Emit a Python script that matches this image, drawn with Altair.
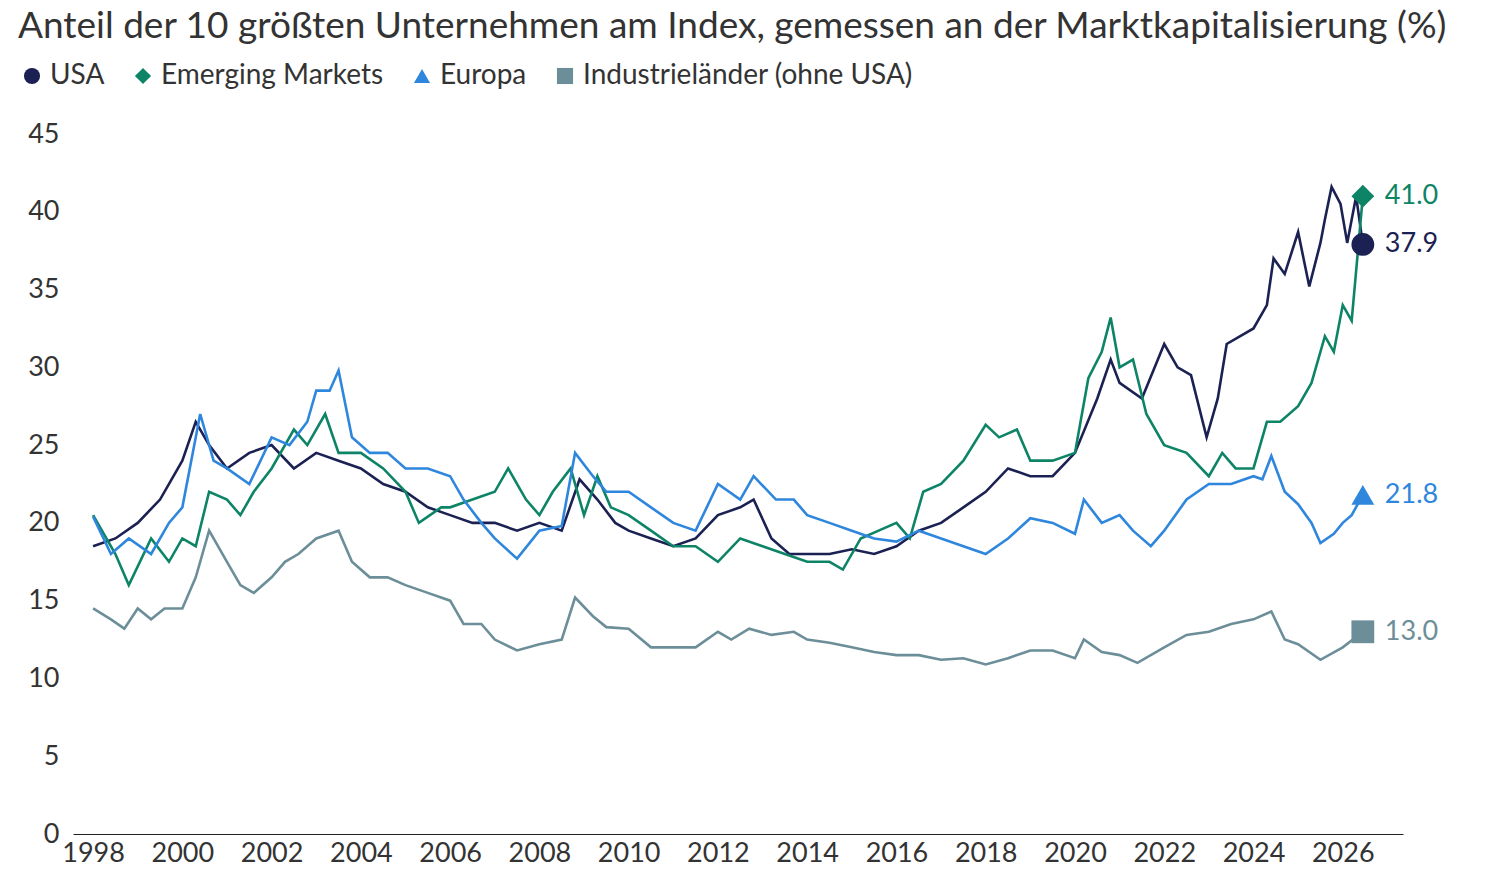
import altair as alt
import pandas as pd

usa_x = [1998.0, 1998.5, 1999.0, 1999.5, 2000.0, 2000.3, 2000.6, 2001.0, 2001.5, 2002.0, 2002.5, 2003.0, 2003.5,
         2004.0, 2004.5, 2005.0, 2005.5, 2006.0, 2006.5, 2007.0, 2007.5, 2008.0, 2008.5, 2008.9, 2009.3, 2009.7,
         2010.0, 2010.5, 2011.0, 2011.5, 2012.0, 2012.5, 2012.8, 2013.2, 2013.6, 2014.0, 2014.5, 2015.0, 2015.5,
         2016.0, 2016.5, 2017.0, 2017.5, 2018.0, 2018.5, 2019.0, 2019.5, 2020.0, 2020.5, 2020.8, 2021.0, 2021.5,
         2022.0, 2022.3, 2022.6, 2022.95, 2023.2, 2023.4, 2024.0, 2024.3, 2024.45, 2024.7, 2025.0, 2025.25,
         2025.5, 2025.6, 2025.75, 2025.95, 2026.1, 2026.3, 2026.45]
usa_y = [18.5, 19, 20, 21.5, 24, 26.5, 25, 23.5, 24.5, 25, 23.5, 24.5, 24,
         23.5, 22.5, 22, 21, 20.5, 20, 20, 19.5, 20, 19.5, 22.8, 21.5, 20,
         19.5, 19, 18.5, 19, 20.5, 21, 21.5, 19, 18, 18, 18, 18.3, 18,
         18.5, 19.5, 20, 21, 22, 23.5, 23, 23, 24.5, 28, 30.5, 29, 28,
         31.5, 30, 29.5, 25.5, 28, 31.5, 32.5, 34, 37, 36, 38.7, 35.2,
         38, 39.5, 41.6, 40.5, 38, 41, 37.9]

em_x = [1998.0, 1998.5, 1998.8, 1999.3, 1999.7, 2000.0, 2000.3, 2000.6, 2001.0, 2001.3, 2001.6, 2002.0, 2002.5,
        2002.8, 2003.2, 2003.5, 2004.0, 2004.5, 2005.0, 2005.3, 2005.8, 2006.0, 2006.5, 2007.0, 2007.3, 2007.7,
        2008.0, 2008.3, 2008.7, 2009.0, 2009.3, 2009.6, 2010.0, 2010.5, 2011.0, 2011.5, 2012.0, 2012.5, 2013.0,
        2013.5, 2014.0, 2014.5, 2014.8, 2015.2, 2015.6, 2016.0, 2016.3, 2016.6, 2017.0, 2017.5, 2018.0, 2018.3,
        2018.7, 2019.0, 2019.5, 2020.0, 2020.3, 2020.6, 2020.8, 2021.0, 2021.3, 2021.6, 2022.0, 2022.5, 2023.0,
        2023.3, 2023.6, 2024.0, 2024.3, 2024.6, 2025.0, 2025.3, 2025.6, 2025.8, 2026.0, 2026.2, 2026.45]
em_y = [20.5, 18, 16, 19, 17.5, 19, 18.5, 22, 21.5, 20.5, 22, 23.5, 26,
        25, 27, 24.5, 24.5, 23.5, 22, 20, 21, 21, 21.5, 22, 23.5, 21.5,
        20.5, 22, 23.5, 20.5, 23, 21, 20.5, 19.5, 18.5, 18.5, 17.5, 19, 18.5,
        18, 17.5, 17.5, 17, 19, 19.5, 20, 19, 22, 22.5, 24, 26.3, 25.5,
        26, 24, 24, 24.5, 29.3, 31, 33.2, 30, 30.5, 27, 25, 24.5, 23,
        24.5, 23.5, 23.5, 26.5, 26.5, 27.5, 29, 32, 31, 34, 33, 41.0]

eu_x = [1998.0, 1998.4, 1998.8, 1999.3, 1999.7, 2000.0, 2000.2, 2000.4, 2000.7, 2001.0, 2001.5, 2002.0, 2002.4,
        2002.8, 2003.0, 2003.3, 2003.5, 2003.8, 2004.2, 2004.6, 2005.0, 2005.5, 2006.0, 2006.3, 2006.7, 2007.0,
        2007.5, 2008.0, 2008.5, 2008.8, 2009.2, 2009.5, 2010.0, 2010.5, 2011.0, 2011.5, 2012.0, 2012.5, 2012.8,
        2013.3, 2013.7, 2014.0, 2014.5, 2015.0, 2015.5, 2016.0, 2016.5, 2017.0, 2017.5, 2018.0, 2018.5, 2019.0,
        2019.5, 2020.0, 2020.2, 2020.6, 2021.0, 2021.3, 2021.7, 2022.0, 2022.5, 2023.0, 2023.5, 2024.0, 2024.2,
        2024.4, 2024.7, 2025.0, 2025.3, 2025.5, 2025.8, 2026.0, 2026.2, 2026.45]
eu_y = [20.4, 18, 19, 18, 20, 21, 24, 27, 24, 23.5, 22.5, 25.5, 25,
        26.5, 28.5, 28.5, 29.8, 25.5, 24.5, 24.5, 23.5, 23.5, 23, 21.5, 20, 19,
        17.7, 19.5, 19.8, 24.5, 23, 22, 22, 21, 20, 19.5, 22.5, 21.5, 23,
        21.5, 21.5, 20.5, 20, 19.5, 19, 18.8, 19.5, 19, 18.5, 18, 19, 20.3,
        20, 19.3, 21.5, 20, 20.5, 19.5, 18.5, 19.5, 21.5, 22.5, 22.5, 23, 22.8,
        24.3, 22, 21.2, 20, 18.7, 19.3, 20, 20.5, 21.8]

ind_x = [1998.0, 1998.4, 1998.7, 1999.0, 1999.3, 1999.6, 2000.0, 2000.3, 2000.6, 2001.0, 2001.3, 2001.6, 2002.0,
         2002.3, 2002.6, 2003.0, 2003.5, 2003.8, 2004.2, 2004.6, 2005.0, 2005.5, 2006.0, 2006.3, 2006.7, 2007.0,
         2007.5, 2008.0, 2008.5, 2008.8, 2009.2, 2009.5, 2010.0, 2010.5, 2011.0, 2011.5, 2012.0, 2012.3, 2012.7,
         2013.2, 2013.7, 2014.0, 2014.5, 2015.0, 2015.5, 2016.0, 2016.5, 2017.0, 2017.5, 2018.0, 2018.5, 2019.0,
         2019.5, 2020.0, 2020.2, 2020.6, 2021.0, 2021.4, 2022.0, 2022.5, 2023.0, 2023.5, 2024.0, 2024.4, 2024.7,
         2025.0, 2025.5, 2026.0, 2026.45]
ind_y = [14.5, 13.8, 13.2, 14.5, 13.8, 14.5, 14.5, 16.5, 19.5, 17.5, 16, 15.5, 16.5,
         17.5, 18, 19, 19.5, 17.5, 16.5, 16.5, 16, 15.5, 15, 13.5, 13.5, 12.5,
         11.8, 12.2, 12.5, 15.2, 14, 13.3, 13.2, 12, 12, 12, 13, 12.5, 13.2,
         12.8, 13, 12.5, 12.3, 12, 11.7, 11.5, 11.5, 11.2, 11.3, 10.9, 11.3, 11.8,
         11.8, 11.3, 12.5, 11.7, 11.5, 11, 12, 12.8, 13, 13.5, 13.8, 14.3, 12.5,
         12.2, 11.2, 12, 13.0]

names = ["USA", "Emerging Markets", "Europa", "Industrieländer (ohne USA)"]
colors = ["#1b2253", "#0e8467", "#2f86dd", "#6c8e99"]
shapes = ["circle", "diamond", "triangle-up", "square"]

frames = []
for n, xs, ys in zip(names, [usa_x, em_x, eu_x, ind_x], [usa_y, em_y, eu_y, ind_y]):
    frames.append(pd.DataFrame({"Jahr": xs, "Wert": ys, "Serie": n}))
df = pd.concat(frames, ignore_index=True)
last = df.groupby("Serie", sort=False).tail(1).copy()
last["label"] = last["Wert"].map(lambda v: f"{v:.1f}")

font = "Lato"
xs = alt.X("Jahr:Q", scale=alt.Scale(domain=[1997.55, 2027.35], nice=False),
           axis=alt.Axis(values=list(range(1998, 2027, 2)), format="d", title=None, grid=False,
                         ticks=False, labelFontSize=27, labelColor="#333", domainColor="#222",
                         labelPadding=6, labelFont=font))
ys = alt.Y("Wert:Q", scale=alt.Scale(domain=[0, 45], nice=False),
           axis=alt.Axis(values=list(range(0, 46, 5)), title=None, grid=False, domain=False, ticks=False,
                         labelFontSize=27, labelColor="#333", labelPadding=14, labelFont=font))
col = alt.Color("Serie:N", scale=alt.Scale(domain=names, range=colors),
                legend=alt.Legend(title=None, orient="none", legendX=-55, legendY=-72, direction="horizontal",
                                  labelFontSize=28, labelColor="#333", labelFont=font, symbolSize=260,
                                  columnPadding=24, symbolStrokeWidth=0, labelLimit=500))
shp = alt.Shape("Serie:N", scale=alt.Scale(domain=names, range=shapes))

lines = alt.Chart(df).mark_line(strokeWidth=2.6).encode(x=xs, y=ys, color=col, detail="Serie:N")
pts = alt.Chart(last).mark_point(filled=True, size=520, opacity=1).encode(x=xs, y=ys, color=col, shape=shp)
labels = alt.Chart(last).mark_text(align="left", dx=22, fontSize=27, font=font).encode(
    x=xs, y=ys, text="label:N", color=alt.Color("Serie:N", scale=alt.Scale(domain=names, range=colors), legend=None))

chart = alt.layer(lines, pts, labels).properties(
    width=1330, height=700,
    title=alt.TitleParams("Anteil der 10 größten Unternehmen am Index, gemessen an der Marktkapitalisierung (%)",
                          anchor="start", frame="bounds", fontSize=37, fontWeight="normal", color="#333",
                          font=font, offset=16),
    padding={"left": 10, "top": 0, "right": 5, "bottom": 5}
).configure_view(stroke=None)

chart.save("out.html", embed_options={"renderer": "svg", "actions": False})
